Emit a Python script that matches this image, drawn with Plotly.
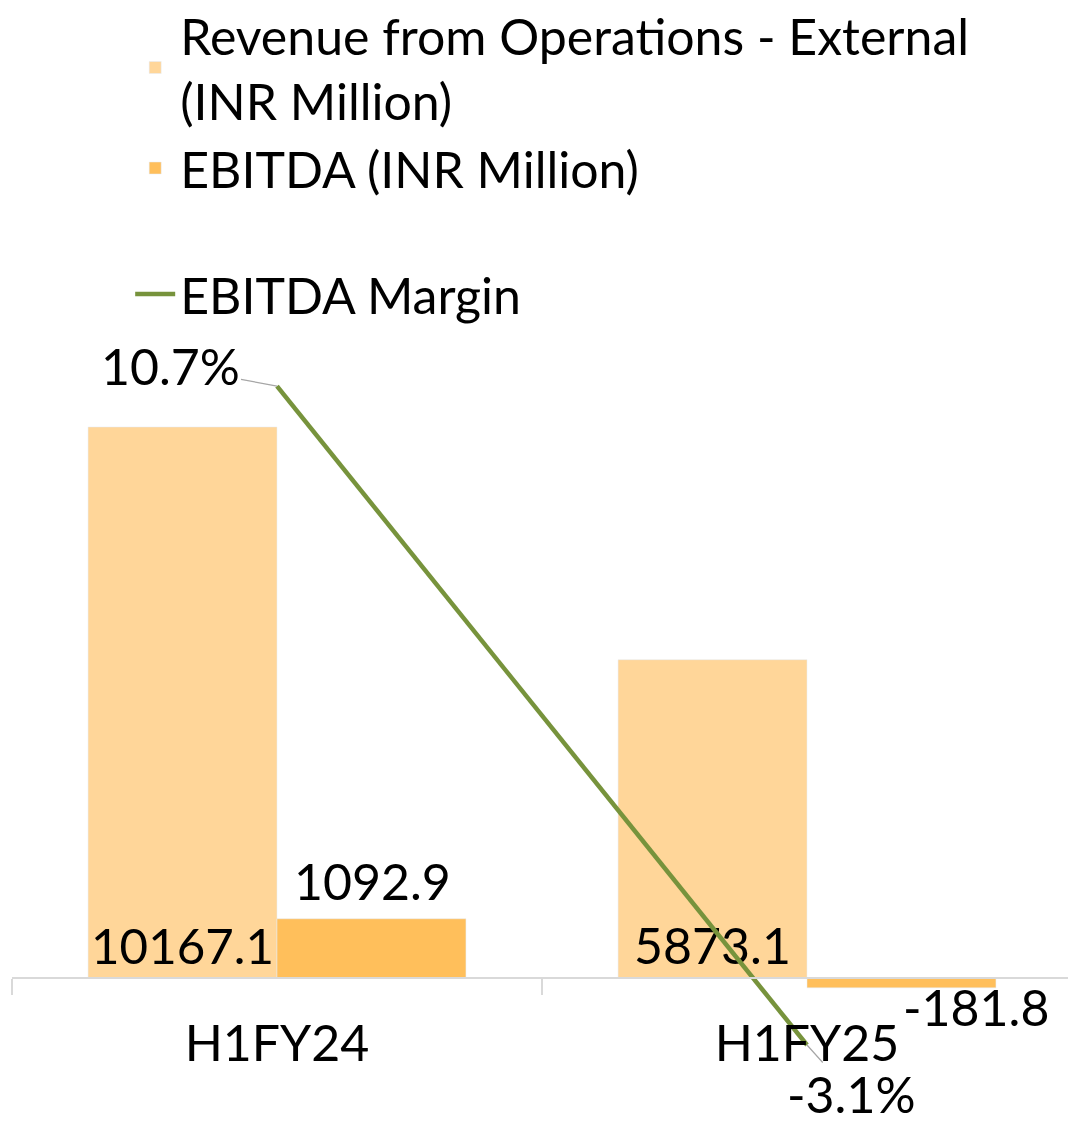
# ==============================================================================
# plot.py - H1FY24 vs H1FY25: revenue, EBITDA and EBITDA margin
# Bars on the primary axis (INR Million), margin line on a secondary axis.
# ==============================================================================
import plotly.graph_objects as go

# --- 1. Data ---
periodos = ["H1FY24", "H1FY25"]
receita = [10167.1, 5873.1]
ebitda = [1092.9, -181.8]
margem = [10.7, -3.1]

CORES = {
    "receita": "#FFD699",
    "ebitda": "#FFBF5B",
    "margem": "#77933C",
    "eixo": "#D9D9D9",
    "guia": "#A6A6A6",
    "texto": "#000000",
}
FONTE = "Lato, 'Open Sans', sans-serif"
TAM = 50

# --- 2. Traces ---
fig = go.Figure()

fig.add_trace(go.Bar(
    x=periodos,
    y=receita,
    name="Revenue from Operations - External<br>(INR Million)",
    marker_color=CORES["receita"],
    text=[f"{v:.1f}" for v in receita],
    textposition="inside",
    insidetextanchor="start",
    textangle=0,
    textfont=dict(size=TAM, color=CORES["texto"]),
    legendgroup="barras",
))

fig.add_trace(go.Bar(
    x=periodos,
    y=ebitda,
    name="EBITDA (INR Million)",
    marker_color=CORES["ebitda"],
    legendgroup="barras",
))

fig.add_trace(go.Scatter(
    x=periodos,
    y=margem,
    name="EBITDA Margin",
    mode="lines",
    line=dict(color=CORES["margem"], width=4.5),
    yaxis="y2",
    legendgroup="linha",
))

# --- 3. Data labels (EBITDA bars and margin points) ---
# EBITDA labels sit over the right-hand bar of each group
deslocamentos_ebitda = [95, 169]
for p, v, dx in zip(periodos, ebitda, deslocamentos_ebitda):
    fig.add_annotation(
        x=p, y=v, xref="x", yref="y",
        text=f"{v:.1f}", showarrow=False,
        xshift=dx, yshift=6 if v >= 0 else 13,
        yanchor="bottom" if v >= 0 else "top",
        font=dict(size=TAM, color=CORES["texto"]),
    )

# margin labels with grey leader lines
offsets_margem = [(-107, -20), (44, 49)]
for p, v, (ax, ay) in zip(periodos, margem, offsets_margem):
    fig.add_annotation(
        x=p, y=v, xref="x", yref="y2",
        text=f"{v:.1f}%",
        showarrow=True, arrowhead=0, arrowwidth=1.2,
        arrowcolor=CORES["guia"], ax=ax, ay=ay,
        font=dict(size=TAM, color=CORES["texto"]),
    )

# --- 4. Layout ---
# the page body adds an 8px offset, so margins are trimmed to compensate
fig.update_layout(
    width=1076,
    height=1123,
    margin=dict(l=4, r=12, t=292, b=71, autoexpand=False),
    paper_bgcolor="white",
    plot_bgcolor="white",
    font=dict(family=FONTE, size=TAM, color=CORES["texto"]),
    barmode="group",
    bargap=0.287,
    bargroupgap=0,
    showlegend=True,
    legend=dict(
        x=0.1115, y=1.400, xanchor="left", yanchor="top",
        traceorder="grouped", tracegroupgap=58,
        font=dict(size=TAM), itemwidth=40,
        bgcolor="rgba(0,0,0,0)",
    ),
    xaxis=dict(
        type="category",
        anchor="free", position=0.1079,
        showline=True, linecolor=CORES["eixo"], linewidth=2,
        ticks="outside", tickson="boundaries", ticklen=16,
        tickcolor=CORES["eixo"], tickwidth=2,
        ticklabelstandoff=22,
        showgrid=False,
        tickfont=dict(size=TAM),
    ),
    yaxis=dict(
        range=[-1513, 12510],
        visible=False, showgrid=False, zeroline=False,
    ),
    yaxis2=dict(
        range=[-3.414, 12.503],
        overlaying="y", side="right",
        visible=False, showgrid=False, zeroline=False,
    ),
)

fig.write_html("out.html")
